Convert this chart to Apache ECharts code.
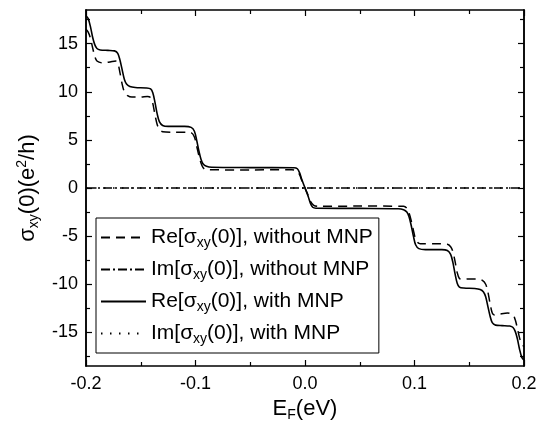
<!DOCTYPE html>
<html>
<head>
<meta charset="utf-8">
<script src="https://cdn.jsdelivr.net/npm/echarts@6/dist/echarts.min.js"></script>
<style>
  html, body { margin: 0; padding: 0; background: #fff; }
  #chart { width: 541px; height: 433px; }
</style>
</head>
<body>
<div id="chart"></div>
<script>
// sigma_xy(0) vs E_F

var reWithX = [-0.200, -0.198, -0.196, -0.194, -0.192, -0.190, -0.187, -0.180, -0.174, -0.171, -0.169, -0.167, -0.165, -0.163, -0.160, -0.155, -0.145, -0.141, -0.139, -0.137, -0.135, -0.133, -0.130, -0.125, -0.110, -0.104, -0.101, -0.099, -0.097, -0.095, -0.093, -0.090, -0.085, -0.050, -0.010, -0.007, -0.005, -0.003, 0.000,
  0.003, 0.005, 0.007, 0.010, 0.050, 0.085, 0.090, 0.093, 0.095, 0.097, 0.099, 0.101, 0.104, 0.110, 0.125, 0.130, 0.133, 0.135, 0.137, 0.139, 0.141, 0.145, 0.155, 0.160, 0.163, 0.165, 0.167, 0.169, 0.171, 0.174, 0.180, 0.187, 0.190, 0.192, 0.194, 0.196, 0.198, 0.200];
var reWithY = [17.9, 17.6, 16.8, 15.7, 14.9, 14.5, 14.35, 14.3, 14.25, 14.0, 13.3, 12.3, 11.3, 10.8, 10.55, 10.45, 10.4, 10.3, 9.9, 8.9, 7.7, 6.9, 6.5, 6.4, 6.4, 6.3, 5.9, 5.0, 3.9, 3.0, 2.5, 2.25, 2.15, 2.12, 2.1, 2.0, 1.6, 0.9, 0.0,
  -0.9, -1.6, -2.0, -2.1, -2.12, -2.15, -2.25, -2.5, -3.0, -3.9, -5.0, -5.9, -6.3, -6.4, -6.4, -6.5, -6.9, -7.7, -8.9, -9.9, -10.3, -10.4, -10.45, -10.55, -10.8, -11.3, -12.3, -13.3, -14.0, -14.25, -14.3, -14.35, -14.5, -14.9, -15.7, -16.8, -17.6, -17.9];

var reNoX = [-0.200, -0.198, -0.196, -0.194, -0.192, -0.190, -0.185, -0.178, -0.173, -0.171, -0.169, -0.167, -0.165, -0.162, -0.158, -0.150, -0.144, -0.141, -0.139, -0.137, -0.135, -0.133, -0.130, -0.120, -0.108, -0.104, -0.101, -0.099, -0.097, -0.095, -0.093, -0.090, -0.050, -0.012, -0.008, -0.005, -0.003, 0.000,
  0.003, 0.005, 0.008, 0.012, 0.050, 0.090, 0.093, 0.095, 0.097, 0.099, 0.101, 0.104, 0.108, 0.120, 0.130, 0.133, 0.135, 0.137, 0.139, 0.141, 0.144, 0.150, 0.158, 0.162, 0.165, 0.167, 0.169, 0.171, 0.173, 0.178, 0.185, 0.190, 0.192, 0.194, 0.196, 0.198, 0.200];
var reNoY = [16.5, 16.2, 15.6, 14.6, 13.7, 13.2, 13.0, 13.1, 13.2, 13.0, 12.0, 10.8, 10.0, 9.6, 9.45, 9.45, 9.5, 9.4, 8.8, 7.6, 6.6, 6.1, 5.85, 5.8, 5.8, 5.75, 5.3, 4.4, 3.4, 2.6, 2.1, 1.9, 1.88, 1.9, 1.8, 1.4, 0.8, 0.0,
  -0.8, -1.4, -1.8, -1.9, -1.88, -1.9, -2.1, -2.6, -3.4, -4.4, -5.3, -5.75, -5.8, -5.8, -5.85, -6.1, -6.6, -7.6, -8.8, -9.4, -9.5, -9.45, -9.45, -9.6, -10.0, -10.8, -12.0, -13.0, -13.2, -13.1, -13.0, -13.2, -13.7, -14.6, -15.6, -16.2, -16.5];

var imX = [-0.2, 0.2];
var imNoY = [0, 0];
var imWithY = [0, 0];

var yLabels = [-15, -10, -5, 0, 5, 10, 15];
var yMinor = [-17.5, -12.5, -7.5, -2.5, 2.5, 7.5, 12.5, 17.5];

var names = [
  '{n|Re[σ}{s|xy}{n|(0)], without MNP}',
  '{n|Im[σ}{s|xy}{n|(0)], without MNP}',
  '{n|Re[σ}{s|xy}{n|(0)], with MNP}',
  '{n|Im[σ}{s|xy}{n|(0)], with MNP}'
];

function zip(xs, ys) {
  return xs.map(function (x, i) { return [x, ys[i]]; });
}

var font = 'Liberation Sans, Arial, sans-serif';

var chart = echarts.init(document.getElementById('chart'));

function yAx(pos, vals, len, labels) {
  return {
    type: 'value', position: pos, min: -18.5, max: 18.5,
    axisLine: { show: true, onZero: false, lineStyle: { color: '#000', width: 1.5 } },
    axisTick: { show: true, inside: true, length: len, customValues: vals, lineStyle: { color: '#000', width: 1.2 } },
    axisLabel: labels ? { show: true, customValues: yLabels, color: '#000', fontSize: 18, fontFamily: font, margin: 8 } : { show: false },
    splitLine: { show: false }
  };
}

function xAx(pos, labels) {
  return {
    type: 'value', position: pos, min: -0.2, max: 0.2, interval: 0.1,
    axisLine: { show: true, onZero: false, lineStyle: { color: '#000', width: 1.5 } },
    axisTick: { show: true, inside: true, length: 6, lineStyle: { color: '#000', width: 1.2 } },
    minorTick: { show: true, splitNumber: 2, length: 4, lineStyle: { color: '#000', width: 1.2 } },
    axisLabel: labels ? { show: true, color: '#000', fontSize: 18, fontFamily: font, margin: 9,
      formatter: function (v) { return v.toFixed(1); } } : { show: false },
    splitLine: { show: false },
    minorSplitLine: { show: false }
  };
}

var xBottom = xAx('bottom', true);
xBottom.name = '{a|E}{s|F}{a|(eV)}';
xBottom.nameLocation = 'middle';
xBottom.nameGap = 30;
xBottom.nameTextStyle = {
  color: '#000', fontFamily: font, fontSize: 22,
  rich: { a: { fontSize: 22, fontFamily: font, color: '#000' }, s: { fontSize: 14, fontFamily: font, color: '#000', padding: [12, 0, 0, 0] } }
};

var yLeft = yAx('left', yLabels, 6, true);
yLeft.name = '{a|σ}{s|xy}{a|(0)(e}{p|2}{a|/h)}';
yLeft.nameLocation = 'middle';
yLeft.nameGap = 42;
yLeft.nameTextStyle = {
  color: '#000', fontFamily: font, fontSize: 22,
  rich: {
    a: { fontSize: 22, fontFamily: font, color: '#000' },
    s: { fontSize: 14, fontFamily: font, color: '#000', padding: [12, 0, 0, 0] },
    p: { fontSize: 14, fontFamily: font, color: '#000', padding: [0, 0, 12, 0] }
  }
};

var option = {
  animation: false,
  backgroundColor: '#fff',
  grid: { left: 86, right: 17, top: 10, bottom: 67 },
  xAxis: [xBottom, xAx('top', false)],
  yAxis: [yLeft, yAx('left', yMinor, 4, false), yAx('right', yLabels, 6, false), yAx('right', yMinor, 4, false)],
  legend: {
    orient: 'vertical', left: 96, top: 218,
    padding: [9, 6, 7, 4],
    itemGap: 9,
    itemWidth: 45, itemHeight: 14,
    borderColor: '#000', borderWidth: 1, borderRadius: 0,
    itemStyle: { opacity: 0 },
    data: names,
    textStyle: {
      color: '#000', fontFamily: font, fontSize: 21,
      rich: {
        n: { fontSize: 21, fontFamily: font, color: '#000' },
        s: { fontSize: 14, fontFamily: font, color: '#000', padding: [11, 0, 0, 0] }
      }
    },
    formatter: function (name) { return name; }
  },
  series: [
    { name: names[0], type: 'line', data: zip(reNoX, reNoY), symbol: 'none', smooth: 0.3, color: '#000',
      lineStyle: { color: '#000', width: 1.5, type: [9, 6] } },
    { name: names[1], type: 'line', data: zip(imX, imNoY), symbol: 'none', color: '#000',
      lineStyle: { color: '#000', width: 1.5, type: [9, 3, 2, 3] } },
    { name: names[2], type: 'line', data: zip(reWithX, reWithY), symbol: 'none', smooth: 0.3, color: '#000',
      lineStyle: { color: '#000', width: 1.6, type: 'solid' } },
    { name: names[3], type: 'line', data: zip(imX, imWithY), symbol: 'none', color: '#000',
      lineStyle: { color: '#000', width: 1.5, type: [1.5, 7.5] } }
  ]
};

chart.setOption(option);
</script>
</body>
</html>
